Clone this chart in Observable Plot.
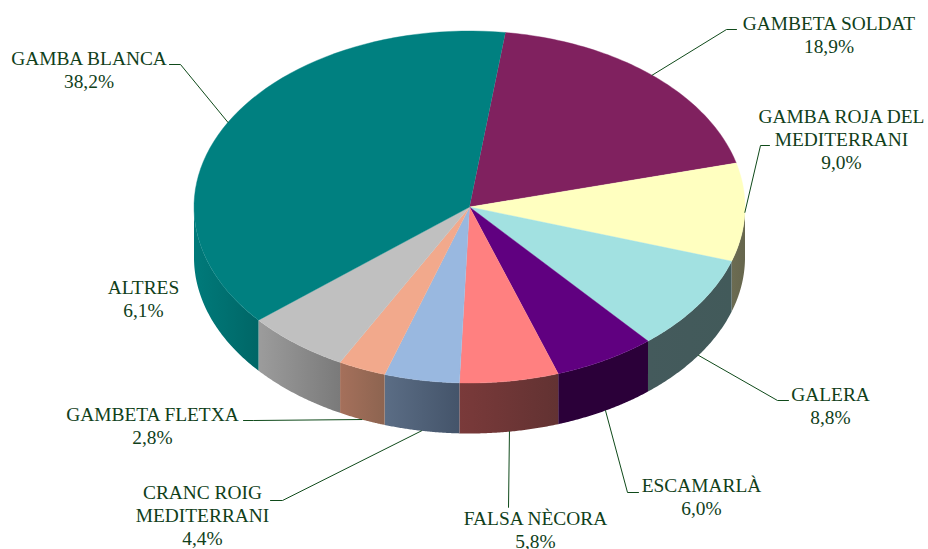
<!DOCTYPE html>
<html>
<head>
<meta charset="utf-8">
<style>html,body{margin:0;padding:0;background:#fff}</style>
<script src="https://cdn.jsdelivr.net/npm/d3@7"></script>
<script src="https://cdn.jsdelivr.net/npm/@observablehq/plot@0.6"></script>
</head>
<body>
<div id="chart"></div>
<script>
// Slices, clockwise, starting at the teal / purple boundary
const categories = ["GAMBETA SOLDAT","GAMBA ROJA DEL\nMEDITERRANI","GALERA","ESCAMARLÀ","FALSA NÈCORA","CRANC ROIG\nMEDITERRANI","GAMBETA FLETXA","ALTRES","GAMBA BLANCA"];
const shares = [18.9,9.0,8.8,6.0,5.8,4.4,2.8,6.1,38.2];
const topColors = ["#80215f","#ffffc0","#a2e1e1","#600080","#ff8080","#99b8e0","#f2a98c","#c0c0c0","#008080"];
const sideFrom = ["#40102f","#6c6c52","#445a5c","#2b0039","#7a3a3a","#5b6d85","#a5705b","#9c9c9c","#007a7a"];
const sideTo   = ["#40102f","#66664d","#425a5a","#2b0039","#623232","#44546a","#8d6450","#7a7a7a","#006666"];

// Layout of labels and leader lines
const labelX = [828.5,841,830,701,535,202,152,143,88.5];
const labelY = [33.5,138.5,404.5,495.5,528.5,514.5,424.5,297.5,68.5];
const kneeX = [726,760,777,627,508,282,253,null,180];
const kneeY = [29,145,400,492,507,500,420,null,64];
const endX  = [736,769,788,638,508,270,243,null,169];
const endY  = [29,145,400,492,507,500,420,null,64];

// Pie geometry
const cx = 469, cy = 206.5, rx = 275.5, ry = 176, depth = 50.5, startDeg = 7.5;
const rad = d => d * Math.PI / 180;
const px = t => cx + rx * Math.sin(rad(t));
const py = t => cy - ry * Math.cos(rad(t));
const arcSteps = (a, b) => d3.range(0, 61).map(i => a + (b - a) * i / 60);

let acc = startDeg;
const slices = categories.map((name, i) => {
  const a = acc; acc += shares[i] * 3.6;
  return {name, i, a, b: acc, mid: (a + acc) / 2};
});

// Top face polygons
const topPts = slices.flatMap(s => [
  {i: s.i, x: cx, y: cy},
  ...arcSteps(s.a, s.b).map(t => ({i: s.i, x: px(t), y: py(t)}))
]);

// Side wall polygons: only the front half (90°..270°) is visible
const sidePts = slices.flatMap(s => {
  const a = Math.max(s.a, 90), b = Math.min(s.b, 270);
  if (a >= b) return [];
  const arc = arcSteps(a, b);
  return [
    ...arc.map(t => ({i: s.i, x: px(t), y: py(t)})),
    ...arc.slice().reverse().map(t => ({i: s.i, x: px(t), y: py(t) + depth}))
  ];
});

// Leader lines: start at the middle of the slice, on the rim or the wall
const leaderPts = slices.flatMap(s => {
  if (kneeX[s.i] == null) return [];
  const wall = s.mid > 100 && s.mid < 260 ? depth : 0;
  return [
    {i: s.i, x: px(s.mid), y: py(s.mid) + wall},
    {i: s.i, x: kneeX[s.i], y: kneeY[s.i]},
    {i: s.i, x: endX[s.i], y: endY[s.i]}
  ];
});

const labels = slices.map(s => ({
  x: labelX[s.i], y: labelY[s.i],
  text: `${s.name}\n${shares[s.i].toFixed(1).replace(".", ",")}%`
}));

const defs = () => {
  const svg = d3.create("svg:defs");
  categories.forEach((_, i) => {
    const g = svg.append("linearGradient").attr("id", `side${i}`);
    g.append("stop").attr("offset", "0%").attr("stop-color", sideFrom[i]);
    g.append("stop").attr("offset", "100%").attr("stop-color", sideTo[i]);
  });
  return svg.node();
};

const chart = Plot.plot({
  width: 928, height: 549,
  margin: 0,
  x: {domain: [0, 928], range: [0, 928], axis: null},
  y: {domain: [0, 549], range: [0, 549], axis: null},
  color: {type: "identity"},
  style: {background: "#fff"},
  marks: [
    defs,
    Plot.line(sidePts, {x: "x", y: "y", z: "i", stroke: "none", fill: d => `url(#side${d.i})`}),
    Plot.line(topPts, {x: "x", y: "y", z: "i", fill: d => topColors[d.i], stroke: d => topColors[d.i], strokeWidth: 0.4}),
    Plot.line(leaderPts, {x: "x", y: "y", z: "i", stroke: "#0f4a1a", strokeWidth: 1}),
    Plot.text(labels, {x: "x", y: "y", text: "text", fill: "#10401a", fontFamily: "Liberation Serif", fontSize: 19.4, lineHeight: 1.19})
  ]
});
document.getElementById("chart").append(chart);
</script>
</body>
</html>
